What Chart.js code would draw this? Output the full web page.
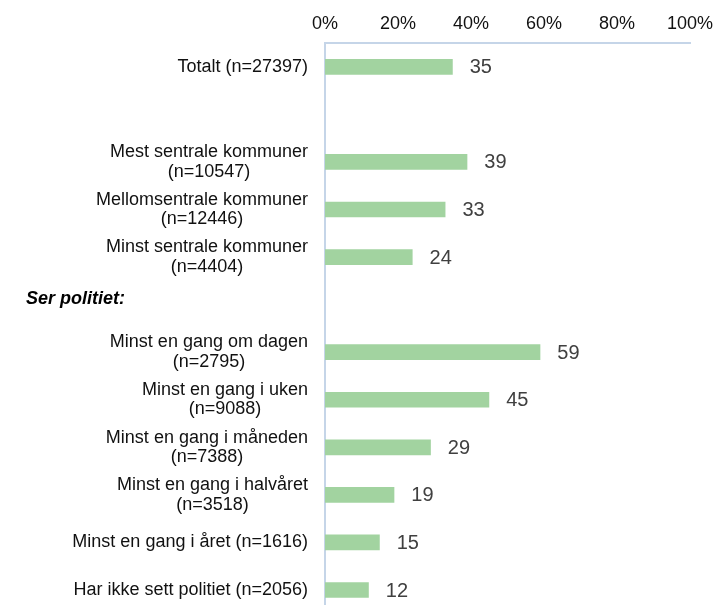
<!DOCTYPE html>
<html>
<head>
<meta charset="utf-8">
<script src="https://cdn.jsdelivr.net/npm/chart.js@4"></script>
<style>
  html, body { margin: 0; padding: 0; background: #fff; overflow: hidden; }
  #wrap { width: 716px; height: 624px; }
</style>
</head>
<body>
<div id="wrap"><canvas id="chartCanvas" width="716" height="624"></canvas></div>
<script>
// categories (multi-line labels as arrays), '' = empty row
var categories = [
  ['Totalt (n=27397)'],
  [''],
  ['Mest sentrale kommuner', '(n=10547)'],
  ['Mellomsentrale kommuner', '(n=12446)'],
  ['Minst sentrale kommuner', '(n=4404)'],
  ['Ser politiet:'],
  ['Minst en gang om dagen', '(n=2795)'],
  ['Minst en gang i uken', '(n=9088)'],
  ['Minst en gang i måneden', '(n=7388)'],
  ['Minst en gang i halvåret', '(n=3518)'],
  ['Minst en gang i året (n=1616)'],
  ['Har ikke sett politiet (n=2056)']
];
var headingRows = [5];
var values = [35, null, 39, 33, 24, null, 59, 45, 29, 19, 15, 12];
var xTicks = [0, 20, 40, 60, 80, 100];

var FONT = '"Liberation Sans", Arial, sans-serif';

// draws category labels (centred lines, right-aligned block) and value labels
var labelPlugin = {
  id: 'labels',
  afterDraw: function(chart) {
    var ctx = chart.ctx;
    var y = chart.scales.y, x = chart.scales.x;
    ctx.save();
    categories.forEach(function(lines, i) {
      var cy = y.getPixelForValue(i);
      if (headingRows.indexOf(i) >= 0) {
        ctx.font = 'italic bold 18px ' + FONT;
        ctx.fillStyle = '#000';
        ctx.textAlign = 'left';
        ctx.textBaseline = 'middle';
        ctx.fillText(lines[0], 26, cy - 6);
        return;
      }
      ctx.font = '18px ' + FONT;
      ctx.fillStyle = '#111';
      ctx.textAlign = 'center';
      ctx.textBaseline = 'middle';
      var w = 0;
      lines.forEach(function(l) { w = Math.max(w, ctx.measureText(l).width); });
      var cx = 308 - w / 2;
      var lh = 19.5;
      var top = cy - (lines.length - 1) * lh / 2;
      lines.forEach(function(l, k) { ctx.fillText(l, cx, top + k * lh); });
    });
    ctx.font = '20px ' + FONT;
    ctx.fillStyle = '#404040';
    ctx.textAlign = 'left';
    ctx.textBaseline = 'middle';
    values.forEach(function(v, i) {
      if (v === null) return;
      ctx.fillText(String(v), x.getPixelForValue(v) + 17, y.getPixelForValue(i) + 1);
    });
    ctx.restore();
  }
};

var ctx = document.getElementById('chartCanvas').getContext('2d');
new Chart(ctx, {
  type: 'bar',
  data: {
    labels: categories.map(function(c) { return c.join(' '); }),
    datasets: [{
      data: values,
      backgroundColor: '#a2d3a0',
      borderWidth: 0,
      barPercentage: 0.33,
      categoryPercentage: 1
    }]
  },
  options: {
    indexAxis: 'y',
    responsive: false,
    animation: false,
    layout: { padding: { left: 0, right: 26, top: 0, bottom: 7 } },
    plugins: { legend: { display: false }, tooltip: { enabled: false }, title: { display: false } },
    scales: {
      x: {
        position: 'top',
        min: 0,
        max: 100,
        afterBuildTicks: function(s) { s.ticks = xTicks.map(function(v) { return { value: v }; }); },
        afterFit: function(s) { s.height = 43; s.paddingLeft = 0; s.paddingRight = 0; },
        grid: { display: false, drawTicks: false },
        border: { display: true, color: '#c5d5e8', width: 2 },
        ticks: {
          padding: 8,
          color: '#111',
          font: { family: FONT, size: 18 },
          maxRotation: 0,
          callback: function(v) { return v + '%'; }
        }
      },
      y: {
        afterFit: function(s) { s.width = 325; },
        grid: { display: false, drawTicks: false },
        border: { display: true, color: '#c5d5e8', width: 2 },
        ticks: { callback: function() { return ''; } }
      }
    }
  },
  plugins: [labelPlugin]
});
</script>
</body>
</html>
